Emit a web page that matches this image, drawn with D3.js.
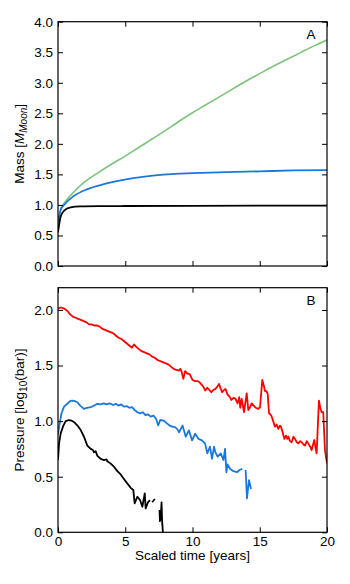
<!DOCTYPE html>
<html>
<head>
<meta charset="utf-8">
<script src="https://cdn.jsdelivr.net/npm/d3@7"></script>
<style>
  body { margin: 0; background: #fff; }
  svg, svg text { font-family: "Liberation Sans", Arial, sans-serif; }
  .axis text { font-size: 13.5px; fill: #000; font-family: "Liberation Sans", Arial, sans-serif; }
  .axis line { stroke: #000; }
</style>
</head>
<body>
<script>
// tick values
var timeTicks = [0, 5, 10, 15, 20];
var massTicks = [0, 0.5, 1, 1.5, 2, 2.5, 3, 3.5, 4];
var pressTicks = [0, 0.5, 1, 1.5, 2];

// mass vs scaled time (panel A), [t, mass]
var massGreen = [[0,0.72],[0.2,0.93],[0.5,1.04],[1,1.17],[2,1.38],[3,1.53],[4,1.67],[5,1.80],
    [6,1.94],[7,2.08],[8,2.22],[9,2.37],[10,2.51],[11,2.64],[12,2.77],[13,2.90],[14,3.03],
    [15,3.15],[16,3.27],[17,3.38],[18,3.49],[19,3.60],[20,3.70]];
var massBlue = [[0,0.72],[0.2,0.92],[0.45,1.0],[1.2,1.15],[2.2,1.26],[3.4,1.34],[4.2,1.38],
    [5.6,1.44],[8.7,1.51],[10,1.52],[15,1.55],[17.5,1.565],[20,1.57]];
var massBlack = [[0,0.55],[0.1,0.70],[0.2,0.81],[0.45,0.905],[0.94,0.96],[1.7,0.975],
    [3,0.98],[10,0.985],[20,0.99]];

// pressure vs scaled time (panel B), [t, log10 bar], null = gap
var pressRed = [[0,2.01],[0.15,2.02],[0.3,2.02],[0.5,2.01],[0.7,1.99],[0.9,1.96],[1.1,1.94],
    [1.3,1.93],[1.5,1.92],[1.7,1.91],[1.9,1.90],[2.1,1.89],[2.3,1.87],[2.5,1.87],[2.7,1.86],
    [2.9,1.86],[3.1,1.85],[3.3,1.83],[3.5,1.82],[3.7,1.81],[3.9,1.80],[4.1,1.79],[4.3,1.77],
    [4.5,1.75],[4.7,1.74],[4.9,1.72],[5.1,1.70],[5.3,1.68],[5.5,1.66],[5.65,1.69],[5.8,1.67],
    [6.0,1.65],[6.2,1.63],[6.4,1.62],[6.6,1.61],[6.8,1.60],[7.0,1.58],[7.2,1.57],[7.4,1.55],
    [7.6,1.54],[7.8,1.53],[8.0,1.52],[8.2,1.51],[8.4,1.49],[8.6,1.47],[8.8,1.46],[9.0,1.455],
    [9.1,1.47],[9.2,1.44],[9.32,1.38],[9.45,1.45],[9.6,1.43],[9.8,1.42],[10.0,1.37],
    [10.2,1.36],[10.4,1.36],[10.6,1.34],[10.8,1.31],[10.95,1.275],[11.1,1.30],[11.25,1.28],
    [11.4,1.26],[11.55,1.28],[11.7,1.29],[11.85,1.31],[11.97,1.335],[12.1,1.29],[12.2,1.26],
    [12.35,1.28],[12.45,1.29],[12.6,1.24],[12.75,1.22],[12.9,1.19],[13.05,1.21],[13.2,1.20],
    [13.35,1.16],[13.48,1.215],[13.55,1.12],[13.66,1.20],[13.83,1.08],[14.03,1.25],
    [14.15,1.10],[14.3,1.13],[14.4,1.16],[14.55,1.14],[14.7,1.12],[14.9,1.11],[15.02,1.125],
    [15.19,1.37],[15.3,1.32],[15.39,1.27],[15.5,1.27],[15.59,1.245],[15.69,1.07],[15.8,1.06],
    [15.89,1.04],[16.0,1.00],[16.13,0.95],[16.25,0.97],[16.38,0.93],[16.5,0.96],[16.58,0.95],
    [16.7,0.90],[16.83,0.84],[16.95,0.87],[17.05,0.84],[17.13,0.86],[17.25,0.82],[17.37,0.81],
    [17.5,0.86],[17.62,0.84],[17.75,0.81],[17.87,0.80],[18.0,0.82],[18.12,0.81],[18.25,0.79],
    [18.36,0.78],[18.5,0.82],[18.6,0.80],[18.75,0.77],[18.86,0.74],[19.05,0.83],[19.15,0.76],
    [19.23,0.71],[19.4,1.185],[19.5,1.12],[19.6,1.08],[19.72,1.08],[19.85,0.74],[20.0,0.62]];
var pressBlue = [[0,0.88],[0.1,0.96],[0.25,1.066],[0.45,1.13],[0.69,1.156],[0.9,1.18],
    [1.06,1.185],[1.25,1.18],[1.44,1.17],[1.65,1.14],[1.93,1.11],[2.15,1.12],[2.43,1.125],
    [2.7,1.14],[2.92,1.156],[3.15,1.15],[3.4,1.16],[3.6,1.15],[3.85,1.16],[4.1,1.145],
    [4.3,1.155],[4.5,1.14],[4.7,1.15],[4.9,1.13],[5.1,1.135],[5.3,1.12],[5.5,1.125],[5.7,1.10],
    [5.9,1.08],[6.1,1.07],[6.3,1.08],[6.5,1.055],[6.7,1.06],[6.9,1.04],[7.1,1.05],[7.3,1.02],
    [7.45,0.96],[7.6,1.01],[7.85,1.005],[8.1,0.98],[8.3,0.96],[8.5,0.95],[8.7,0.946],
    [8.85,0.93],[9.0,0.90],[9.26,0.96],[9.5,0.86],[9.73,0.917],[9.97,0.827],[10.2,0.887],
    [10.45,0.84],[10.7,0.827],[10.93,0.80],[11.1,0.71],[11.3,0.77],[11.45,0.66],[11.6,0.77],
    [11.7,0.72],[11.87,0.68],[12.1,0.71],[12.3,0.65],[12.42,0.75],[12.52,0.54],[12.6,0.61],
    [12.8,0.57],[13.05,0.55],[13.3,0.54],[13.5,0.56],[13.7,0.57],null,
    [13.95,0.56],[14.05,0.305],[14.2,0.47],[14.35,0.39]];
var pressBlack = [[0,0.65],[0.08,0.80],[0.2,0.89],[0.4,0.96],[0.57,1.00],[0.82,1.01],
    [1.0,1.005],[1.2,0.99],[1.45,0.96],[1.7,0.917],[1.94,0.857],[2.18,0.78],[2.43,0.75],
    [2.6,0.74],[2.68,0.72],[2.8,0.73],[2.92,0.69],[3.17,0.66],[3.42,0.65],[3.6,0.655],
    [3.66,0.64],[3.9,0.62],[4.16,0.59],[4.41,0.55],[4.66,0.52],[4.9,0.48],[5.15,0.44],
    [5.4,0.40],[5.6,0.38],[5.7,0.26],[5.9,0.32],[6.1,0.29],[6.27,0.23],[6.45,0.35],
    [6.52,0.215],[6.69,0.27],[6.84,0.29],null,[7.0,0.27],[7.2,0.30],null,
    [7.55,0.20],[7.58,0.10],[7.65,0.16],[7.7,0.27],[7.74,0.10],[7.8,0.0],[7.85,-0.05]];

var W = 350, H = 584;
var left = 58, right = 327;

var svg = d3.select("body").append("svg")
    .attr("width", W)
    .attr("height", H);

var x = d3.scaleLinear().domain([0, 20]).range([left, right]);

var panels = [
    {id: "A", top: 21.7, bottom: 266, domain: [0, 4], ticks: massTicks,
     series: [[massGreen, "#7cc47c", 1.6], [massBlue, "#1a78dc", 1.8], [massBlack, "#000", 1.8]],
     curve: d3.curveMonotoneX},
    {id: "B", top: 287.7, bottom: 532.3, domain: [0, 2.2], ticks: pressTicks,
     series: [[pressRed, "#ff0000", 1.8], [pressBlue, "#1a78dc", 1.8], [pressBlack, "#000", 1.8]],
     curve: d3.curveLinear}
];

panels.forEach(function(p, pi){
    var y = d3.scaleLinear().domain(p.domain).range([p.bottom, p.top]);
    var g = svg.append("g");

    //clip so lines stay inside the frame
    g.append("clipPath").attr("id", "clip" + p.id)
        .append("rect")
        .attr("x", left).attr("y", p.top)
        .attr("width", right - left).attr("height", p.bottom - p.top);

    var line = d3.line()
        .defined(function(d){ return d !== null; })
        .x(function(d){ return x(d[0]); })
        .y(function(d){ return y(d[1]); })
        .curve(p.curve);

    g.selectAll(".series")
        .data(p.series)
        .enter()
        .append("path")
        .attr("clip-path", "url(#clip" + p.id + ")")
        .attr("d", function(s){ return line(s[0]); })
        .style("fill", "none")
        .style("stroke", function(s){ return s[1]; })
        .style("stroke-width", function(s){ return s[2]; })
        .style("stroke-linejoin", "round");

    //inward ticks on all four sides
    var yLeft = d3.axisLeft(y).tickValues(p.ticks).tickFormat(d3.format(".1f"))
        .tickSize(-5).tickPadding(5);
    g.append("g").attr("class", "axis")
        .attr("transform", "translate(" + left + ",0)")
        .call(yLeft)
        .call(function(a){ a.select(".domain").remove(); });

    g.append("g").attr("class", "axis")
        .attr("transform", "translate(" + right + ",0)")
        .call(d3.axisRight(y).tickValues(p.ticks).tickSize(-5).tickFormat(""))
        .call(function(a){ a.select(".domain").remove(); });

    var xBottom = d3.axisBottom(x).tickValues(timeTicks).tickSize(-5).tickPadding(4)
        .tickFormat(pi === 1 ? d3.format("d") : "");
    g.append("g").attr("class", "axis")
        .attr("transform", "translate(0," + p.bottom + ")")
        .call(xBottom)
        .call(function(a){ a.select(".domain").remove(); });

    g.append("g").attr("class", "axis")
        .attr("transform", "translate(0," + p.top + ")")
        .call(d3.axisTop(x).tickValues(timeTicks).tickSize(-5).tickFormat(""))
        .call(function(a){ a.select(".domain").remove(); });

    //frame
    g.append("rect")
        .attr("x", left).attr("y", p.top)
        .attr("width", right - left).attr("height", p.bottom - p.top)
        .style("fill", "none")
        .style("stroke", "#000")
        .style("stroke-width", 1.2);

    //panel letter
    g.append("text")
        .attr("x", 311).attr("y", p.top + 17.5)
        .attr("text-anchor", "middle")
        .style("font-size", "13.5px")
        .text(p.id);
});

//axis titles
var massLabel = svg.append("text")
    .attr("transform", "translate(24," + (21.7 + 266) / 2 + ") rotate(-90)")
    .attr("text-anchor", "middle")
    .style("font-size", "13.5px");
massLabel.append("tspan").text("Mass [");
massLabel.append("tspan").style("font-style", "italic").text("M");
massLabel.append("tspan").style("font-style", "italic").style("font-size", "10px")
    .attr("dy", 3).text("Moon");
massLabel.append("tspan").attr("dy", -3).text("]");

var pressLabel = svg.append("text")
    .attr("transform", "translate(24," + (287.7 + 532.3) / 2 + ") rotate(-90)")
    .attr("text-anchor", "middle")
    .style("font-size", "13.5px");
pressLabel.append("tspan").text("Pressure [log");
pressLabel.append("tspan").style("font-size", "10px").attr("dy", 3).text("10");
pressLabel.append("tspan").attr("dy", -3).text("(bar)]");

svg.append("text")
    .attr("x", (left + right) / 2)
    .attr("y", 560)
    .attr("text-anchor", "middle")
    .style("font-size", "13.5px")
    .text("Scaled time [years]");
</script>
</body>
</html>
